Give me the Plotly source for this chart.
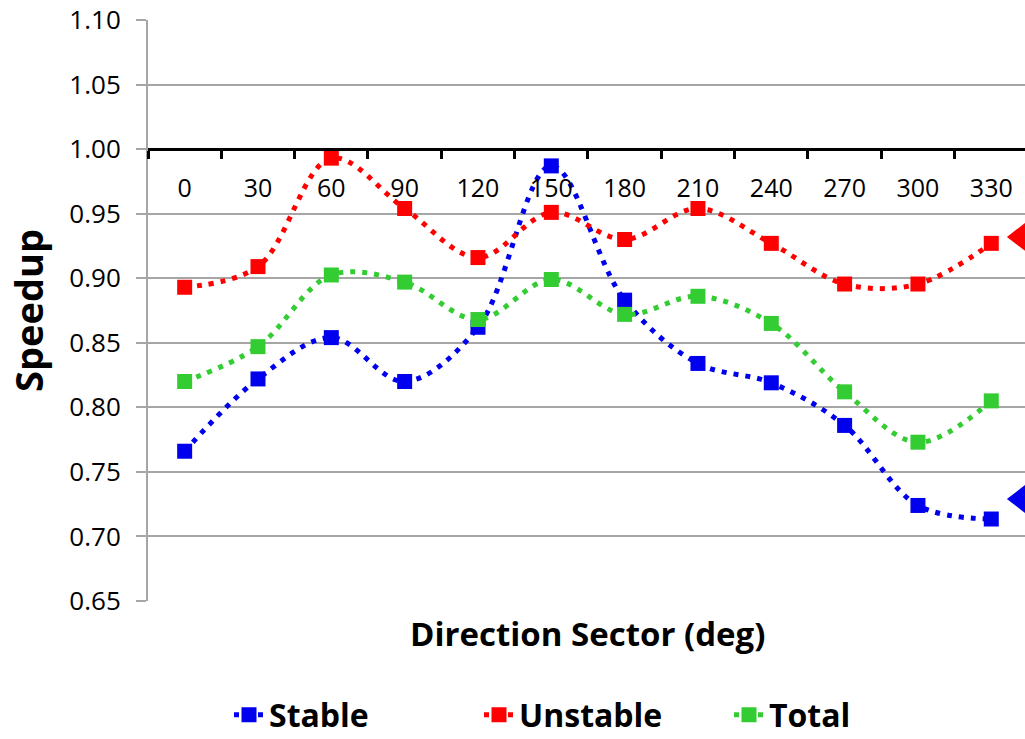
import plotly.graph_objects as go

categories = ["0", "30", "60", "90", "120", "150", "180", "210", "240", "270", "300", "330"]
stable = [0.766, 0.822, 0.854, 0.820, 0.862, 0.987, 0.883, 0.834, 0.819, 0.786, 0.724, 0.7135]
unstable = [0.893, 0.909, 0.993, 0.954, 0.916, 0.951, 0.930, 0.954, 0.927, 0.8955, 0.8955, 0.927]
total = [0.820, 0.847, 0.9025, 0.897, 0.868, 0.899, 0.872, 0.886, 0.865, 0.812, 0.773, 0.805]
# partially visible arrow heads at right edge (cropped in original)
edge_marks = [0.932, 0.729]
edge_colors = ["#ff0000", "#0000ee"]

xi = list(range(len(categories)))
FONT = "Open Sans"

fig = go.Figure()
series = [("Stable", stable, "#0000ee"), ("Unstable", unstable, "#ff0000"), ("Total", total, "#33cc33")]
for name, vals, col in series:
    fig.add_trace(go.Scatter(
        x=xi, y=vals, name=name, mode="lines+markers",
        line=dict(color=col, width=5, dash="5px,7px", shape="spline", smoothing=1.0),
        marker=dict(symbol="square", size=15, color=col),
        cliponaxis=False,
    ))

fig.add_trace(go.Scatter(
    x=[len(categories) - 0.555] * len(edge_marks), y=edge_marks, mode="markers",
    marker=dict(symbol="triangle-left", size=34, color=edge_colors),
    showlegend=False, cliponaxis=False, hoverinfo="skip",
))

W, H = 1025, 760
PLOT_H = 581
T = 20
ymin, ymax = 0.65, 1.10
fig.update_layout(
    width=W, height=H,
    margin=dict(l=148, r=0, t=T, b=H - T - PLOT_H),
    plot_bgcolor="white", paper_bgcolor="white",
    font=dict(family=FONT, color="black"),
    showlegend=True,
    legend=dict(orientation="h", x=(229 - 148) / 877, xanchor="left",
                y=(601 - 715) / PLOT_H, yanchor="middle",
                font=dict(size=32, family=FONT, weight="bold"), entrywidth=205),
    xaxis=dict(
        range=[-0.5, 11.46], tickmode="array", tickvals=xi, ticktext=categories,
        ticks="", showgrid=False, zeroline=False, automargin=False,
        ticklabeloverflow="allow",
        showline=True, linecolor="black", linewidth=3,
        anchor="free", position=(1.0 - ymin) / (ymax - ymin),
        tickfont=dict(size=25, family=FONT), ticklabelstandoff=16,
        minor=dict(tickmode="array", tickvals=[i - 0.5 for i in range(len(categories) + 1)],
                   ticks="outside", ticklen=8, tickwidth=3, tickcolor="black", showgrid=False),
    ),
    yaxis=dict(
        range=[ymin, ymax], dtick=0.05, tick0=0.65, tickformat=".2f",
        showgrid=True, gridcolor="#a6a6a6", gridwidth=2, automargin=False,
        ticklabeloverflow="allow",
        showline=True, linecolor="#a6a6a6", linewidth=2,
        ticks="outside", ticklen=10, tickwidth=2, tickcolor="#a6a6a6",
        zeroline=False, tickfont=dict(size=26, family=FONT), ticklabelstandoff=10,
        title=dict(text="Speedup", font=dict(size=38, family=FONT, weight="bold"), standoff=14),
    ),
)
fig.add_annotation(text="<b>Direction Sector (deg)</b>", xref="paper", yref="paper",
                   x=(587 - 148) / 877, y=(601 - 633) / PLOT_H, xanchor="center", yanchor="middle",
                   showarrow=False, font=dict(size=33, family=FONT))
fig.write_html("out.html", config={"displayModeBar": False},
               post_script="document.body.style.margin='0';document.body.style.overflow='hidden';")
